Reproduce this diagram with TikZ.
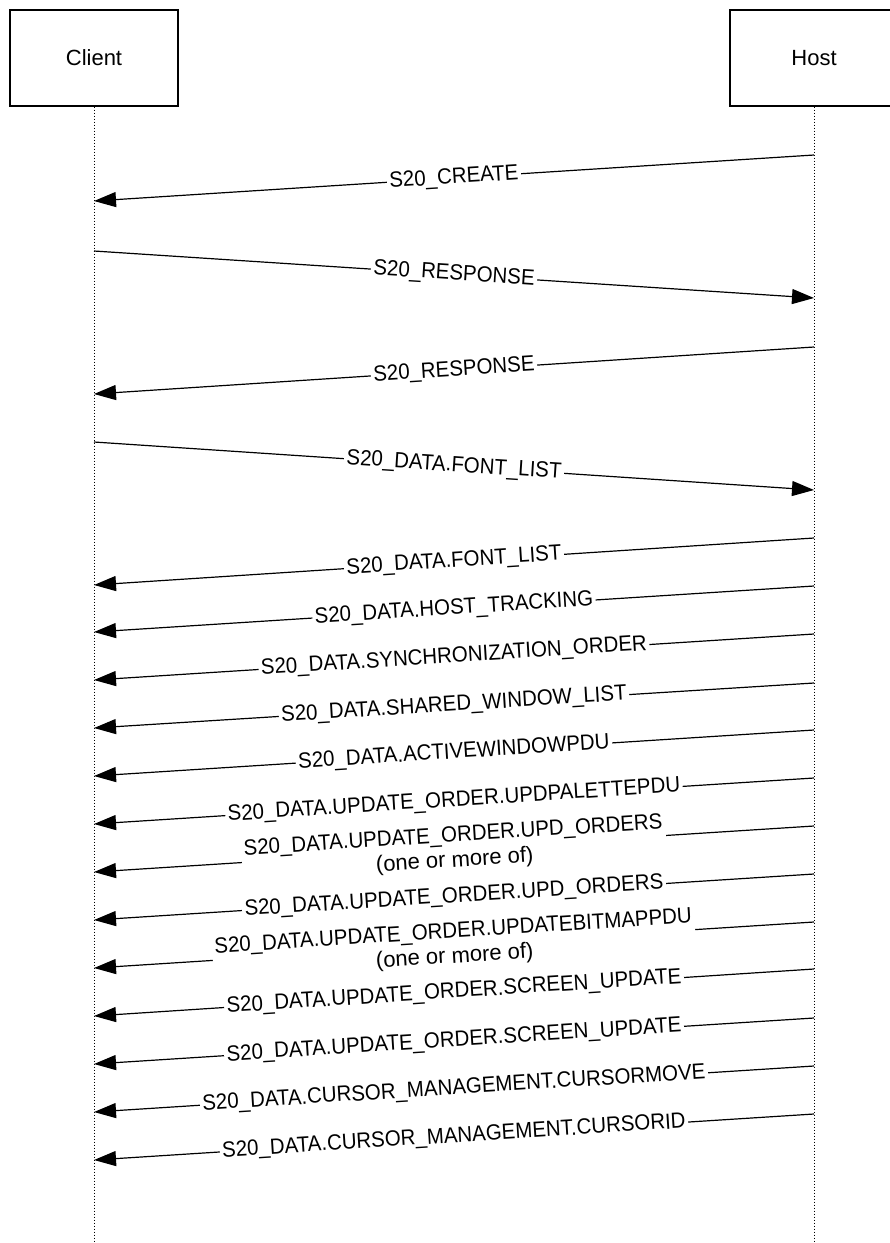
\documentclass[tikz,border=0pt]{standalone}
\usepackage{fontspec}
\usepackage{graphicx}
\setmainfont{Liberation Sans}
\usetikzlibrary{arrows.meta}
\newcommand{\sqz}[1]{\scalebox{0.93}[1]{#1}}
\begin{document}
\begin{tikzpicture}[x=1pt,y=-1pt,
  actor/.style={draw, line width=1.2pt, minimum width=168pt, minimum height=96pt, inner sep=0pt, font=\fontsize{22}{26}\selectfont},
  lifeline/.style={line width=0.8pt, dash pattern=on 1.5pt off 1.5pt},
  msg/.style={line width=1.2pt, -{Triangle[length=22pt,width=15pt]}},
  lab/.style={fill=white, inner sep=2.5pt, sloped, font=\fontsize{22}{25}\selectfont, align=center}]
\useasboundingbox (0,0) rectangle (890,1243);
\node[actor] (client) at (94,58) {Client};
\node[actor] (host) at (814,58) {Host};
\coordinate (cend) at (94,1243);
\coordinate (hend) at (814,1243);
\draw[lifeline] (client.south) -- (cend);
\draw[lifeline] (host.south) -- (hend);
% message end points
\coordinate (h1) at (814,155);  \coordinate (c1) at (94,201);
\coordinate (c2) at (94,251);   \coordinate (h2) at (814,298);
\coordinate (h3) at (814,347);  \coordinate (c3) at (94,394);
\coordinate (c4) at (94,442);   \coordinate (h4) at (814,490);
\coordinate (h5) at (814,538);  \coordinate (c5) at (94,585);
\coordinate (h6) at (814,586);  \coordinate (c6) at (94,632);
\coordinate (h7) at (814,634);  \coordinate (c7) at (94,680);
\coordinate (h8) at (814,683);  \coordinate (c8) at (94,728);
\coordinate (h9) at (814,730);  \coordinate (c9) at (94,776);
\coordinate (h10) at (814,778); \coordinate (c10) at (94,824);
\coordinate (h11) at (814,826); \coordinate (c11) at (94,872);
\coordinate (h12) at (814,874); \coordinate (c12) at (94,920);
\coordinate (h13) at (814,922); \coordinate (c13) at (94,968);
\coordinate (h14) at (814,969); \coordinate (c14) at (94,1016);
\coordinate (h15) at (814,1018);\coordinate (c15) at (94,1064);
\coordinate (h16) at (814,1066);\coordinate (c16) at (94,1112);
\coordinate (h17) at (814,1114);\coordinate (c17) at (94,1160);
% messages
\draw[msg] (h1) -- node[lab] (l1) {\sqz{S20\_CREATE}} (c1);
\draw[msg] (c2) -- node[lab] (l2) {\sqz{S20\_RESPONSE}} (h2);
\draw[msg] (h3) -- node[lab] (l3) {\sqz{S20\_RESPONSE}} (c3);
\draw[msg] (c4) -- node[lab] (l4) {\sqz{S20\_DATA.FONT\_LIST}} (h4);
\draw[msg] (h5) -- node[lab] (l5) {\sqz{S20\_DATA.FONT\_LIST}} (c5);
\draw[msg] (h6) -- node[lab] (l6) {\sqz{S20\_DATA.HOST\_TRACKING}} (c6);
\draw[msg] (h7) -- node[lab] (l7) {\sqz{S20\_DATA.SYNCHRONIZATION\_ORDER}} (c7);
\draw[msg] (h8) -- node[lab] (l8) {\sqz{S20\_DATA.SHARED\_WINDOW\_LIST}} (c8);
\draw[msg] (h9) -- node[lab] (l9) {\sqz{S20\_DATA.ACTIVEWINDOWPDU}} (c9);
\draw[msg] (h10) -- node[lab] (l10) {\sqz{S20\_DATA.UPDATE\_ORDER.UPDPALETTEPDU}} (c10);
\draw[msg] (h11) -- node[lab] (l11) {\sqz{S20\_DATA.UPDATE\_ORDER.UPD\_ORDERS}\\(one or more of)} (c11);
\draw[msg] (h12) -- node[lab] (l12) {\sqz{S20\_DATA.UPDATE\_ORDER.UPD\_ORDERS}} (c12);
\draw[msg] (h13) -- node[lab] (l13) {\sqz{S20\_DATA.UPDATE\_ORDER.UPDATEBITMAPPDU}\\(one or more of)} (c13);
\draw[msg] (h14) -- node[lab] (l14) {\sqz{S20\_DATA.UPDATE\_ORDER.SCREEN\_UPDATE}} (c14);
\draw[msg] (h15) -- node[lab] (l15) {\sqz{S20\_DATA.UPDATE\_ORDER.SCREEN\_UPDATE}} (c15);
\draw[msg] (h16) -- node[lab] (l16) {\sqz{S20\_DATA.CURSOR\_MANAGEMENT.CURSORMOVE}} (c16);
\draw[msg] (h17) -- node[lab] (l17) {\sqz{S20\_DATA.CURSOR\_MANAGEMENT.CURSORID}} (c17);
\end{tikzpicture}
\end{document}
